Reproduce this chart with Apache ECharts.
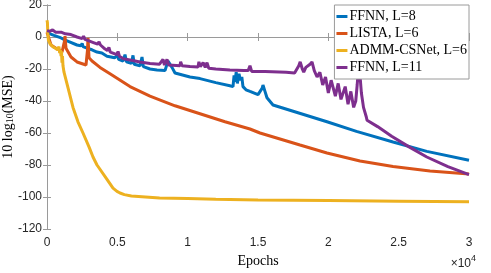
<!DOCTYPE html>
<html>
<head>
<meta charset="utf-8">
<script src="https://cdn.jsdelivr.net/npm/echarts@6/dist/echarts.min.js"></script>
<style>html,body{margin:0;padding:0;background:#fff}#c{width:491px;height:273px}</style>
</head>
<body>
<div id="c"></div>
<script>
const seriesNames = ['FFNN, L=8', 'LISTA, L=6', 'ADMM-CSNet, L=6', 'FFNN, L=11'];
const xTicks = ['0', '0.5', '1', '1.5', '2', '2.5', '3'];

const ffnn8 = [[0,3],[100,3.5],[213,2],[500,1],[995,-0.6],[1300,-2],[1600,-3],[2133,-5],[2400,-5.5],[2500,-4],[2560,-6],[2844,-7],[3200,-8],[3555,-9.4],[3900,-10],[4265,-12],[4550,-12.5],[4800,-13],[5000,-11.5],[5100,-14],[5403,-15],[5545,-11],[5650,-15.5],[6000,-16.5],[6114,-11.5],[6200,-17],[6611,-18],[6754,-12.5],[6850,-18.5],[7322,-20],[7820,-20.6],[8389,-21],[8602,-15],[8744,-14.4],[8886,-19],[9100,-22.5],[10166,-25],[10877,-26],[12000,-28.5],[13000,-30.5],[13223,-31],[13300,-24],[13365,-28],[13450,-22],[13530,-29],[13650,-23],[13750,-27],[13850,-25],[13933,-31],[14146,-33],[14430,-34],[15000,-36],[15141,-36],[15300,-32],[15354,-30],[15430,-29],[15496,-34],[15638,-38],[16066,-42.5],[19904,-53],[22000,-59],[24600,-65.6],[27000,-71.5],[30000,-77]];

const lista6 = [[0,3],[71,2],[142,-1],[284,-5],[640,-7],[853,-8],[1066,-9.4],[1200,-10],[1260,-2],[1280,0.5],[1310,-3],[1351,-7],[1706,-12.5],[2133,-15.6],[2773,-17.5],[2844,-18],[2880,-8],[2915,-0.5],[2950,-6],[2986,-13],[3200,-15],[3768,-19],[4479,-23],[5900,-31],[7322,-37],[9100,-43],[10877,-48],[12654,-53],[14430,-57.5],[15141,-60],[17985,-67.5],[19904,-72.5],[22251,-77.5],[24600,-81],[27227,-83.8],[30000,-85.6]];

const admm6 = [[0,10.5],[30,9],[60,2],[100,-2],[200,-4],[400,-6],[600,-7],[750,-8],[850,-6],[900,-10],[950,-8],[1000,-12],[1030,-9],[1066,-16],[1100,-12],[1137,-18],[1209,-22],[1500,-32],[1848,-44],[2200,-53],[2559,-60],[3000,-69],[3270,-75],[3555,-80],[4265,-89],[4692,-94.5],[4976,-96.5],[5190,-97.5],[5500,-98.5],[6000,-99.4],[7000,-100],[8000,-100.6],[10000,-101],[12000,-101.4],[15000,-101.8],[20000,-102.2],[25000,-102.6],[30000,-103]];

const ffnn11 = [[0,4],[200,3.5],[400,4.5],[600,3],[1000,3],[1300,2],[1700,1.5],[2133,0],[2500,-1],[2600,0.5],[2700,-1.5],[3300,-3.5],[3600,-4.5],[3700,-3],[3800,-5],[4052,-7],[4300,-8.5],[4400,-6.5],[4500,-9.5],[4976,-11],[5050,-9],[5150,-12],[5403,-13.5],[6000,-14.5],[6611,-15.6],[7322,-16.5],[8000,-17],[8246,-14],[8350,-17.5],[8531,-14],[8650,-17.5],[9455,-18],[9500,-15.5],[9600,-18],[10166,-18.5],[10735,-18.8],[10800,-15.5],[10900,-18.5],[11100,-16],[11250,-19],[11374,-16],[11500,-19.5],[12000,-20],[13000,-20.6],[14000,-21],[14300,-21],[14430,-18],[14550,-21.5],[15500,-21.5],[17000,-22],[17600,-22.5],[17900,-18],[18000,-15.5],[18150,-20],[18250,-22],[18400,-19],[18700,-17],[18840,-15.6],[19000,-21],[19200,-25],[19400,-22],[19600,-30],[19800,-25],[20000,-35],[20200,-27],[20500,-37],[20700,-29],[20900,-39],[21200,-31],[21400,-42],[21600,-34],[21800,-44],[21950,-40],[22050,-30],[22150,-19],[22250,-24],[22350,-35],[22500,-44],[22700,-50],[22750,-52],[23500,-56],[24500,-62],[25800,-69],[27000,-75],[28500,-81],[30000,-86]];

const colors = ['#0072BD', '#D95319', '#EDB120', '#7E2F8E'];
const seriesData = [ffnn8, lista6, admm6, ffnn11];

const chart = echarts.init(document.getElementById('c'), null, {renderer: 'canvas'});
const axisColor = '#9a9a9a';
const labelColor = '#262626';
const sans = 'Liberation Sans, Arial, sans-serif';
const serif = 'Liberation Serif, Times New Roman, serif';

chart.setOption({
  animation: false,
  backgroundColor: '#fff',
  grid: {left: 47, right: 22, top: 5, bottom: 44, containLabel: false, outerBoundsMode: 'none'},
  legend: {
    data: seriesNames,
    orient: 'vertical',
    right: 22, top: 5,
    backgroundColor: '#fff',
    borderColor: axisColor, borderWidth: 1,
    padding: [4, 2, 4, 2],
    itemWidth: 11, itemHeight: 3, itemGap: 2,
    icon: 'rect',
    textStyle: {fontFamily: serif, fontSize: 14, color: '#000', padding: [0,0,0,-3], lineHeight: 15}
  },
  xAxis: [{
    type: 'value', min: 0, max: 30000, interval: 5000,
    axisLine: {lineStyle: {color: axisColor}},
    axisTick: {inside: true, length: 4, lineStyle: {color: axisColor}},
    splitLine: {show: false},
    axisLabel: {color: labelColor, fontFamily: sans, fontSize: 12, margin: 8,
      formatter: v => xTicks[Math.round(v / 5000)]},
    name: 'Epochs', nameLocation: 'middle', nameGap: 23,
    nameTextStyle: {fontFamily: serif, fontSize: 14, color: '#000'}
  }, {
    type: 'value', min: 0, max: 30000, interval: 5000, position: 'top',
    axisLine: {lineStyle: {color: axisColor}},
    axisTick: {inside: true, length: 4, lineStyle: {color: axisColor}},
    axisLabel: {show: false}, splitLine: {show: false}
  }],
  yAxis: [{
    type: 'value', min: -120, max: 20, interval: 20,
    axisLine: {show: true, lineStyle: {color: axisColor}},
    axisTick: {show: true, inside: true, length: 4, lineStyle: {color: axisColor}},
    splitLine: {show: false},
    axisLabel: {color: labelColor, fontFamily: sans, fontSize: 12, margin: 5, showMaxLabel: true, showMinLabel: true}
  }, {
    type: 'value', min: -120, max: 20, interval: 20, position: 'right',
    axisLine: {show: true, lineStyle: {color: axisColor}},
    axisTick: {show: true, inside: true, length: 4, lineStyle: {color: axisColor}},
    axisLabel: {show: false}, splitLine: {show: false}
  }],
  series: seriesNames.map((n, i) => ({
    name: n, type: 'line', data: seriesData[i], showSymbol: false, symbol: 'none',
    xAxisIndex: 0, yAxisIndex: 0,
    lineStyle: {color: colors[i], width: 3}, itemStyle: {color: colors[i]}
  })),
  graphic: [{
    type: 'text', right: 15, bottom: 3,
    style: {text: '{a|×10}{s|4}', rich: {
      a: {fontFamily: sans, fontSize: 12, fill: labelColor, padding: [4,0,0,0]},
      s: {fontFamily: sans, fontSize: 9, fill: labelColor, padding: [0,0,6,0]}
    }}
  }, {
    type: 'text', x: 8, y: 117, rotation: Math.PI / 2,
    style: {text: '{a|10 log}{s|10}{a|(MSE)}', align: 'center', verticalAlign: 'middle', rich: {
      a: {fontFamily: serif, fontSize: 14, fill: '#000'},
      s: {fontFamily: serif, fontSize: 10, fill: '#000', padding: [5, 0, 0, 0]}
    }}
  }]
});
</script>
</body>
</html>
